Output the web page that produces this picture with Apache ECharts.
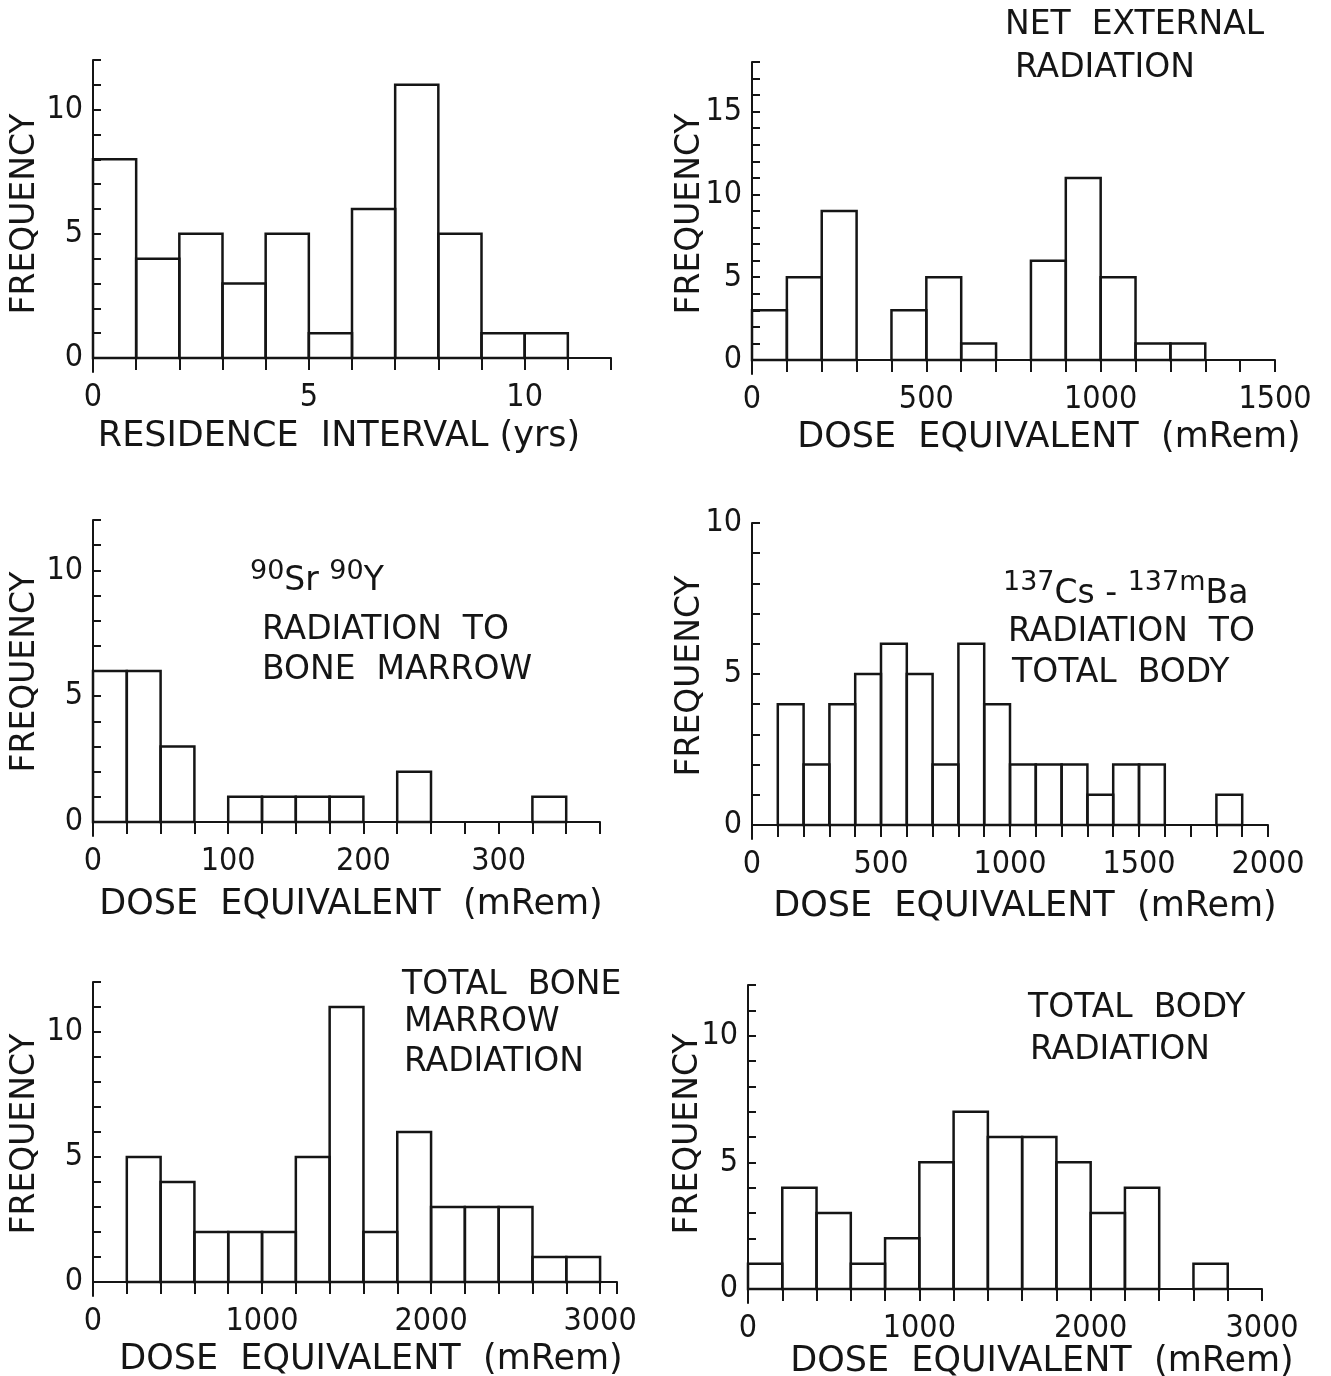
<!DOCTYPE html>
<html>
<head>
<meta charset="utf-8">
<script src="https://cdn.jsdelivr.net/npm/echarts@6/dist/echarts.min.js"></script>
<style>
html,body{margin:0;padding:0;background:#fff;}
#chart{width:1331px;height:1376px;}
</style>
</head>
<body>
<div id="chart"></div>
<script>
// ---------------- DATA ----------------
// Residence interval histogram (yrs), bins of 1 starting at 0
const residenceBinStart = 0, residenceBinWidth = 1;
const residenceCounts = [8, 4, 5, 3, 5, 1, 6, 11, 5, 1, 1];
const residenceXLabels = [0, 5, 10];
const residenceYLabels = [0, 5, 10];

// Net external radiation (mRem), bins of 100
const netExtBinStart = 0, netExtBinWidth = 100;
const netExtCounts = [3, 5, 9, 0, 3, 5, 1, 0, 6, 11, 5, 1, 1];
const netExtXLabels = [0, 500, 1000, 1500];
const netExtYLabels = [0, 5, 10, 15];

// 90Sr-90Y radiation to bone marrow (mRem), bins of 25
const srBinStart = 0, srBinWidth = 25;
const srCounts = [6, 6, 3, 0, 1, 1, 1, 1, 0, 2, 0, 0, 0, 1];
const srXLabels = [0, 100, 200, 300];
const srYLabels = [0, 5, 10];

// 137Cs-137mBa radiation to total body (mRem), bins of 100
const csBinStart = 0, csBinWidth = 100;
const csCounts = [0, 4, 2, 4, 5, 6, 5, 2, 6, 4, 2, 2, 2, 1, 2, 2, 0, 0, 1];
const csXLabels = [0, 500, 1000, 1500, 2000];
const csYLabels = [0, 5, 10];

// Total bone marrow radiation (mRem), bins of 200 starting at 200
const boneBinStart = 200, boneBinWidth = 200;
const boneCounts = [5, 4, 2, 2, 2, 5, 11, 2, 6, 3, 3, 3, 1, 1];
const boneXLabels = [0, 1000, 2000, 3000];
const boneYLabels = [0, 5, 10];

// Total body radiation (mRem), bins of 200
const bodyBinStart = 0, bodyBinWidth = 200;
const bodyCounts = [1, 4, 3, 1, 2, 5, 7, 6, 6, 5, 3, 4, 0, 1];
const bodyXLabels = [0, 1000, 2000, 3000];
const bodyYLabels = [0, 5, 10];

// ---------------- LAYOUT ----------------
const INK = '#151515';
const FONT = "'DejaVu Sans', 'Liberation Sans', sans-serif";
const NUMFONT = "'DejaVu Sans Condensed', 'Liberation Sans Narrow', 'DejaVu Sans', sans-serif";

const panels = [
  {start: residenceBinStart, width: residenceBinWidth, counts: residenceCounts, xLabels: residenceXLabels, yLabels: residenceYLabels,
   xMax: 12, yMax: 12, tickStep: 1, x0: 93, x1: 611, yTop: 60, yZero: 358},
  {start: netExtBinStart, width: netExtBinWidth, counts: netExtCounts, xLabels: netExtXLabels, yLabels: netExtYLabels,
   xMax: 1500, yMax: 18, tickStep: 100, x0: 752, x1: 1275, yTop: 62, yZero: 360},
  {start: srBinStart, width: srBinWidth, counts: srCounts, xLabels: srXLabels, yLabels: srYLabels,
   xMax: 375, yMax: 12, tickStep: 25, x0: 93, x1: 600, yTop: 520, yZero: 822},
  {start: csBinStart, width: csBinWidth, counts: csCounts, xLabels: csXLabels, yLabels: csYLabels,
   xMax: 2000, yMax: 10, tickStep: 100, x0: 752, x1: 1268, yTop: 523, yZero: 825},
  {start: boneBinStart, width: boneBinWidth, counts: boneCounts, xLabels: boneXLabels, yLabels: boneYLabels,
   xMax: 3100, yMax: 12, tickStep: 200, x0: 93, x1: 617, yTop: 982, yZero: 1282},
  {start: bodyBinStart, width: bodyBinWidth, counts: bodyCounts, xLabels: bodyXLabels, yLabels: bodyYLabels,
   xMax: 3000, yMax: 12, tickStep: 200, x0: 748, x1: 1262, yTop: 985, yZero: 1289}
];

const EXT = 14; // pixels the y axis runs below the zero line
const plain = v => String(Math.round(v));

const grid = [], xAxis = [], yAxis = [], series = [];
panels.forEach((p, i) => {
  const pxPerUnit = (p.yZero - p.yTop) / p.yMax;
  const yMin = -EXT / pxPerUnit;
  grid.push({left: p.x0, top: p.yTop, width: p.x1 - p.x0, height: p.yZero + EXT - p.yTop, containLabel: false});
  const xTicks = [];
  for (let v = 0; v <= p.xMax + 1e-9; v += p.tickStep) xTicks.push(v);
  if (xTicks[xTicks.length - 1] < p.xMax) xTicks.push(p.xMax);
  const yTicks = [];
  for (let v = 0; v <= p.yMax; v++) yTicks.push(v);
  xAxis.push({
    type: 'value', gridIndex: i, min: 0, max: p.xMax,
    axisLine: {show: true, onZero: true, lineStyle: {color: INK, width: 2}},
    axisTick: {show: true, inside: false, length: 12, customValues: xTicks, lineStyle: {color: INK, width: 2}},
    axisLabel: {show: true, customValues: p.xLabels, formatter: plain, margin: 10, color: INK, fontSize: 32, fontFamily: NUMFONT},
    splitLine: {show: false}
  });
  yAxis.push({
    type: 'value', gridIndex: i, min: yMin, max: p.yMax,
    axisLine: {show: true, lineStyle: {color: INK, width: 2}},
    axisTick: {show: true, inside: true, length: 8, customValues: yTicks, lineStyle: {color: INK, width: 2}},
    axisLabel: {show: true, customValues: p.yLabels, formatter: plain, margin: 10, color: INK, fontSize: 32, fontFamily: NUMFONT},
    splitLine: {show: false}
  });
  series.push({
    type: 'custom', xAxisIndex: i, yAxisIndex: i, clip: false,
    data: p.counts.map((c, k) => [p.start + k * p.width, p.start + (k + 1) * p.width, c]),
    encode: {x: [0, 1], y: 2},
    renderItem: function (params, api) {
      const c = api.value(2);
      if (!c) return null;
      const a = api.coord([api.value(0), c]);
      const b = api.coord([api.value(1), 0]);
      return {
        type: 'rect',
        shape: {x: a[0], y: a[1], width: b[0] - a[0], height: b[1] - a[1]},
        style: {fill: 'none', stroke: INK, lineWidth: 2.5}
      };
    }
  });
});

function txt(text, x, y, opts) {
  opts = opts || {};
  return {
    type: 'text', x: x, y: y, rotation: opts.rotation || 0, silent: true,
    style: {
      text: text, fill: INK,
      font: (opts.size || 33) + 'px ' + FONT,
      align: opts.align || 'left', verticalAlign: 'middle',
      rich: opts.rich
    }
  };
}
const V = Math.PI / 2;
const AN = 33;   // annotation size
const XN = 35;   // x-axis name size
const YN = 33;   // y-axis name size
const supRich = (lh) => ({
  s: {fontSize: 27, fontFamily: FONT, fill: INK, verticalAlign: 'top', lineHeight: lh},
  m: {fontSize: AN, fontFamily: FONT, fill: INK, verticalAlign: 'bottom', lineHeight: lh}
});
const graphics = [
  // y-axis names
  txt('FREQUENCY', 25, 214, {rotation: V, align: 'center', size: YN}),
  txt('FREQUENCY', 690, 214, {rotation: V, align: 'center', size: YN}),
  txt('FREQUENCY', 25, 672, {rotation: V, align: 'center', size: YN}),
  txt('FREQUENCY', 690, 676, {rotation: V, align: 'center', size: YN}),
  txt('FREQUENCY', 25, 1134, {rotation: V, align: 'center', size: YN}),
  txt('FREQUENCY', 688, 1134, {rotation: V, align: 'center', size: YN}),
  // x-axis names
  txt('RESIDENCE  INTERVAL (yrs)', 339, 437, {align: 'center', size: XN}),
  txt('DOSE  EQUIVALENT  (mRem)', 1049, 438, {align: 'center', size: XN}),
  txt('DOSE  EQUIVALENT  (mRem)', 351, 905, {align: 'center', size: XN}),
  txt('DOSE  EQUIVALENT  (mRem)', 1025, 907, {align: 'center', size: XN}),
  txt('DOSE  EQUIVALENT  (mRem)', 371, 1360, {align: 'center', size: XN}),
  txt('DOSE  EQUIVALENT  (mRem)', 1042, 1362, {align: 'center', size: XN}),
  // annotations
  txt('NET  EXTERNAL', 1005, 25, {size: AN}),
  txt('RADIATION', 1015, 68, {size: AN}),
  txt('{s|90}{m|Sr} {s|90}{m|Y}', 250, 578, {size: AN, rich: supRich(40)}),
  txt('RADIATION  TO', 262, 630, {size: AN}),
  txt('BONE  MARROW', 262, 670, {size: AN}),
  txt('{s|137}{m|Cs - }{s|137m}{m|Ba}', 1003, 590, {size: AN, rich: supRich(42)}),
  txt('RADIATION  TO', 1008, 632, {size: AN}),
  txt('TOTAL  BODY', 1012, 673, {size: AN}),
  txt('TOTAL  BONE', 402, 985, {size: AN}),
  txt('MARROW', 404, 1022, {size: AN}),
  txt('RADIATION', 404, 1062, {size: AN}),
  txt('TOTAL  BODY', 1028, 1008, {size: AN}),
  txt('RADIATION', 1030, 1050, {size: AN})
];

const chart = echarts.init(document.getElementById('chart'), null, {renderer: 'canvas'});
chart.setOption({
  backgroundColor: '#ffffff',
  animation: false,
  grid: grid,
  xAxis: xAxis,
  yAxis: yAxis,
  series: series,
  graphic: graphics
});
</script>
</body>
</html>
